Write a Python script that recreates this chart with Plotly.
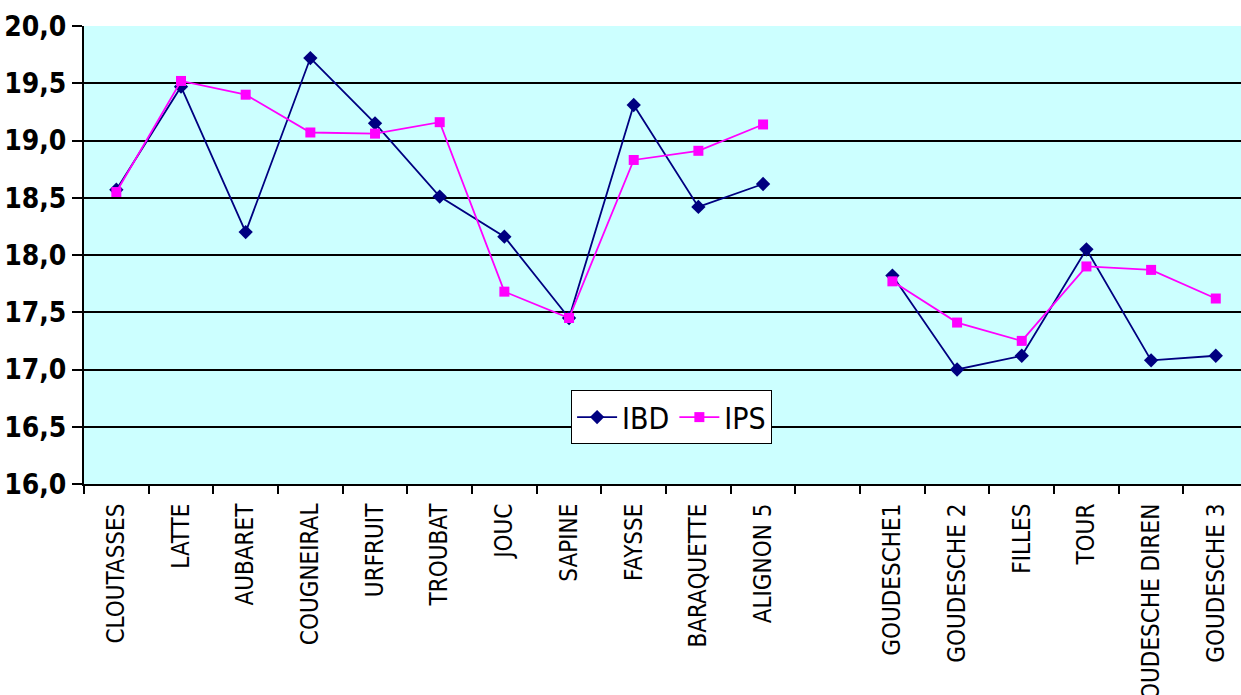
import plotly.graph_objects as go

# Stations along the river; the blank entry separates the two groups
stations = ["CLOUTASSES", "LATTE", "AUBARET", "COUGNEIRAL", "URFRUIT", "TROUBAT",
            "JOUC", "SAPINE", "FAYSSE", "BARAQUETTE", "ALIGNON 5", " ",
            "GOUDESCHE1", "GOUDESCHE 2", "FILLES", "TOUR", "GOUDESCHE DIREN", "GOUDESCHE 3"]

ibd = [18.57, 19.47, 18.20, 19.72, 19.15, 18.51, 18.16, 17.45, 19.31, 18.42, 18.62, None,
       17.82, 17.00, 17.12, 18.05, 17.08, 17.12]
ips = [18.55, 19.52, 19.40, 19.07, 19.06, 19.16, 17.68, 17.45, 18.83, 18.91, 19.14, None,
       17.77, 17.41, 17.25, 17.90, 17.87, 17.62]

y_ticks = [16.0, 16.5, 17.0, 17.5, 18.0, 18.5, 19.0, 19.5, 20.0]

FONT = "Liberation Sans Narrow, DejaVu Sans Condensed, Arial Narrow, sans-serif"

fig = go.Figure()
fig.add_trace(go.Scatter(
    x=stations, y=ibd, name="IBD", mode="lines+markers",
    line=dict(color="#000080", width=1.8),
    marker=dict(symbol="diamond", size=11, color="#000080"),
))
fig.add_trace(go.Scatter(
    x=stations, y=ips, name="IPS", mode="lines+markers",
    line=dict(color="#FF00FF", width=1.8),
    marker=dict(symbol="square", size=10, color="#FF00FF"),
))

fig.update_layout(
    width=1241, height=695,
    margin=dict(l=84, r=0, t=26, b=211, autoexpand=False),
    paper_bgcolor="white",
    plot_bgcolor="#CCFFFF",
    separators=",.",
    font=dict(family=FONT, color="black"),
    showlegend=True,
    legend=dict(
        orientation="h",
        x=0.421, y=0.205, xanchor="left", yanchor="top",
        bgcolor="white", bordercolor="black", borderwidth=1,
        font=dict(family=FONT, size=30, color="black"),
        itemwidth=40,
    ),
    xaxis=dict(
        type="category",
        categoryorder="array", categoryarray=stations,
        range=[-0.5, 17.39],
        automargin=False,
        showgrid=False,
        showline=True, linecolor="black", linewidth=2,
        ticks="outside", tickson="boundaries", ticklen=8, tickcolor="black", tickwidth=2,
        tickangle=-90,
        tickfont=dict(family=FONT, size=24, color="black"),
        ticklabelstandoff=8,
        zeroline=False,
    ),
    yaxis=dict(
        range=[16.0, 20.0],
        automargin=False,
        tickvals=y_ticks,
        tickformat=".1f",
        showgrid=True, gridcolor="black", gridwidth=2,
        showline=True, linecolor="black", linewidth=2,
        ticks="outside", ticklen=10, tickcolor="black", tickwidth=2,
        tickfont=dict(family=FONT, size=28, color="black", weight="bold"),
        zeroline=False,
    ),
)

fig.write_html("out.html")
